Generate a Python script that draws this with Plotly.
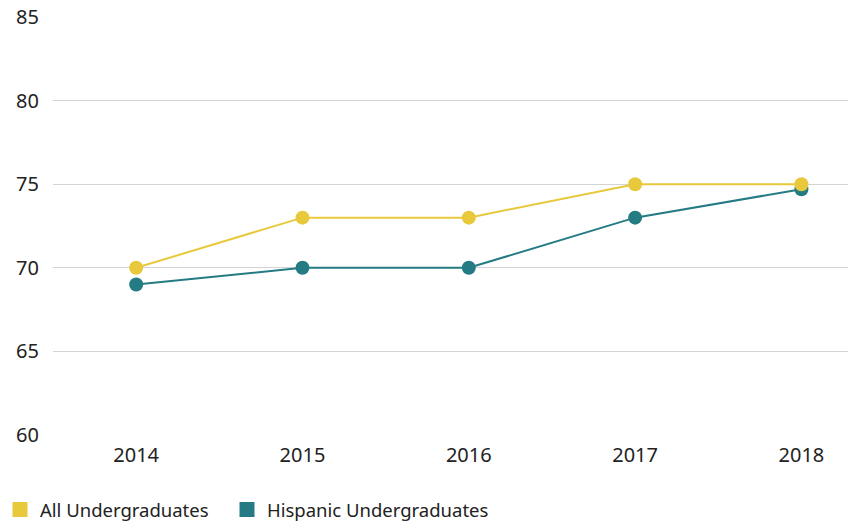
import plotly.graph_objects as go

years = ["2014", "2015", "2016", "2017", "2018"]
all_undergrads = [70, 73, 73, 75, 75]
hispanic_undergrads = [69, 70, 70, 73, 74.7]
y_ticks = [60, 65, 70, 75, 80, 85]

YELLOW = "#E8C93B"
TEAL = "#247B84"
FONT = "Noto Sans, Open Sans, sans-serif"

fig = go.Figure()
fig.add_trace(go.Scatter(x=years, y=hispanic_undergrads, mode="lines+markers",
                         line=dict(color=TEAL, width=2), marker=dict(size=14, color=TEAL),
                         showlegend=False, name="Hispanic Undergraduates"))
fig.add_trace(go.Scatter(x=years, y=all_undergrads, mode="lines+markers",
                         line=dict(color=YELLOW, width=2), marker=dict(size=14, color=YELLOW),
                         showlegend=False, name="All Undergraduates"))
# legend entries with square swatches
fig.add_trace(go.Scatter(x=[None], y=[None], mode="markers", name="All Undergraduates",
                         marker=dict(symbol="square", size=15, color=YELLOW), legend="legend"))
fig.add_trace(go.Scatter(x=[None], y=[None], mode="markers", name="Hispanic Undergraduates",
                         marker=dict(symbol="square", size=15, color=TEAL), legend="legend2"))

leg_common = dict(orientation="h", xref="container", xanchor="left",
                  y=15 / 525, yref="container", yanchor="middle",
                  font=dict(size=18.5), bgcolor="rgba(0,0,0,0)")

fig.update_layout(
    width=851, height=525,
    margin=dict(l=53, r=3, t=17, b=90, autoexpand=False),
    plot_bgcolor="white", paper_bgcolor="white",
    font=dict(family=FONT, size=20, color="#222222"),
    legend=dict(x=0, **leg_common),
    legend2=dict(x=227 / 851, **leg_common),
    xaxis=dict(type="category", range=[-0.5, 4.28], showgrid=False, showline=False,
               ticks="", ticklabelstandoff=6, automargin=False),
    yaxis=dict(range=[60, 85], tickvals=y_ticks, showgrid=True, gridcolor="#D3D3D3",
               gridwidth=1, zeroline=False, showline=False, ticks="", ticklabelstandoff=13,
               automargin=False),
)

fig.write_html("out.html", config={"displayModeBar": False},
               post_script="document.body.style.margin='0';")
